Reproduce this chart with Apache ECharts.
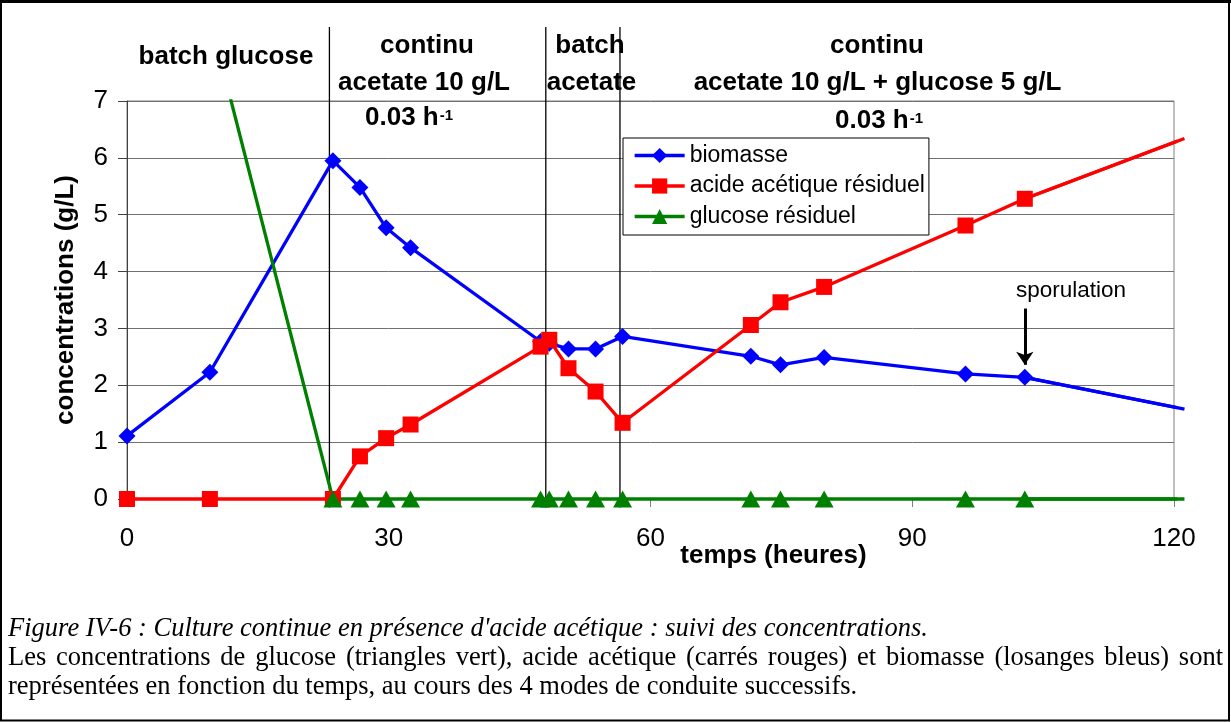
<!DOCTYPE html>
<html><head><meta charset="utf-8">
<script src="https://cdn.jsdelivr.net/npm/echarts@6/dist/echarts.min.js"></script>
<style>html,body{margin:0;padding:0;background:#fff}#c{width:1231px;height:722px}</style>
</head><body><div id="c"></div>
<script>
// ---- data ----
const temps = [0, 9.5, 23.6, 26.7, 29.7, 32.5, 47.4, 48.4, 50.6, 53.7, 56.8, 71.5, 74.9, 79.9, 96.1, 102.9, 121.2];
const biomasse = [1.11, 2.23, 5.95, 5.48, 4.77, 4.42, 2.77, 2.74, 2.64, 2.64, 2.86, 2.51, 2.36, 2.49, 2.20, 2.14, 1.58];
const acide = [0, 0, 0, 0.75, 1.07, 1.31, 2.68, 2.80, 2.30, 1.89, 1.34, 3.06, 3.46, 3.73, 4.81, 5.28, 6.34];
const tempsGlucose = [9.5, 23.6, 26.7, 29.7, 32.5, 47.4, 48.4, 50.6, 53.7, 56.8, 71.5, 74.9, 79.9, 96.1, 102.9, 121.2];
const glucose = [8.46, 0, 0, 0, 0, 0, 0, 0, 0, 0, 0, 0, 0, 0, 0, 0];
const phaseLimits = [23.2, 48.0, 56.5];
const sporulationTime = 102.9;
const sporulationArrow = [3.35, 2.36];
const seriesNames = ['biomasse', 'acide acétique résiduel', 'glucose résiduel'];
const phaseLabels = ['batch glucose', 'continu', 'acetate 10 g/L', 'batch', 'acetate', 'continu', 'acetate 10 g/L + glucose 5 g/L'];
const rateLabel = ['0.03 h', '-1'];
const xTicks = {min: 0, max: 120, interval: 30};
const yTicks = {min: 0, max: 7, interval: 1};
const captionTitle = "Figure IV-6 : Culture continue en présence d'acide acétique : suivi des concentrations.";
const captionLine2 = "Les concentrations de glucose (triangles vert), acide acétique (carrés rouges) et biomasse (losanges bleus) sont";
const captionLine3 = "représentées en fonction du temps, au cours des 4 modes de conduite successifs.";

// ---- build ----
const SANS = '"Liberation Sans", Arial, sans-serif';
const SERIF = '"Liberation Serif", "Times New Roman", serif';
function pairs(ts, vs) {
  return ts.map((t, i) => i === ts.length - 1 ? {value: [t, vs[i]], symbol: 'none'} : [t, vs[i]]);
}
const ctx = document.createElement('canvas').getContext('2d');
function tw(str, font) { ctx.font = font; return ctx.measureText(str).width; }

const chart = echarts.init(document.getElementById('c'), null, {renderer: 'canvas'});

const sepSeries = phaseLimits.map(x => ({
  type: 'line', data: [[x, -0.15], [x, 8.3]], symbol: 'none', clip: false, silent: true,
  lineStyle: {color: '#000', width: 1.3}, z: 1
}));

const graphics = [];
const bold26 = 'bold 26px ' + SANS;
function annot(text, cx, base, size, align) {
  graphics.push({type: 'text', x: cx, y: base - 0.35 * size, z: 50,
    style: {text: text, font: 'bold ' + size + 'px ' + SANS, fill: '#000', align: align || 'center', verticalAlign: 'middle'}});
}
annot(phaseLabels[0], 226, 66, 26);
annot(phaseLabels[1], 427, 55, 26);
annot(phaseLabels[2], 424, 91.7, 26);
annot(phaseLabels[3], 590, 55, 26);
annot(phaseLabels[4], 591.5, 91.7, 26);
annot(phaseLabels[5], 877, 55, 26);
annot(phaseLabels[6], 877.5, 91.7, 26);
[[365, 127], [835, 130]].forEach(p => {
  annot(rateLabel[0], p[0], p[1], 26, 'left');
  annot(rateLabel[1], p[0] + tw(rateLabel[0], bold26) + 1, p[1] - 6, 15, 'left');
});
graphics.push({type: 'text', x: 1071, y: 298.3 - 0.35 * 22.5, z: 50,
  style: {text: 'sporulation', font: '22.5px ' + SANS, fill: '#000', align: 'center', verticalAlign: 'middle'}});

// caption
const capSize = 26.5;
const fontIt = 'italic ' + capSize + 'px ' + SERIF;
const fontRg = capSize + 'px ' + SERIF;
const capBase = [638, 667, 696];
graphics.push({type: 'text', x: 8, y: capBase[0] - 0.35 * capSize, style: {text: captionTitle, font: fontIt, fill: '#000', align: 'left', verticalAlign: 'middle'}});
(function () {
  const words = captionLine2.split(' ');
  const widths = words.map(w => tw(w, fontRg));
  const sum = widths.reduce((a, b) => a + b, 0);
  const gap = Math.max(tw(' ', fontRg), (1223 - 8 - sum) / (words.length - 1));
  let x = 8;
  words.forEach((w, i) => {
    graphics.push({type: 'text', x: x, y: capBase[1] - 0.35 * capSize, style: {text: w, font: fontRg, fill: '#000', align: 'left', verticalAlign: 'middle'}});
    x += widths[i] + gap;
  });
})();
graphics.push({type: 'text', x: 8, y: capBase[2] - 0.35 * capSize, style: {text: captionLine3, font: fontRg, fill: '#000', align: 'left', verticalAlign: 'middle'}});
// frame
graphics.push({type: 'rect', shape: {x: 1, y: 1.5, width: 1228, height: 719}, style: {fill: null, stroke: '#000', lineWidth: 2}, z: 60});
graphics.push({type: 'line', shape: {x1: 0, y1: 1.5, x2: 1231, y2: 1.5}, style: {stroke: '#000', lineWidth: 3}, z: 60});

const option = {
  animation: false,
  backgroundColor: '#fff',
  grid: {left: 127, top: 101, width: 1047, height: 398, show: true, borderColor: '#808080', borderWidth: 1, backgroundColor: 'transparent'},
  xAxis: {
    type: 'value', min: xTicks.min, max: xTicks.max, interval: xTicks.interval,
    name: 'temps (heures)', nameLocation: 'middle', nameGap: 44, nameMoveOverlap: false,
    nameTextStyle: {fontFamily: SANS, fontWeight: 'bold', fontSize: 26, color: '#000', padding: [0, 0, 0, 246]},
    axisLine: {show: true, lineStyle: {color: '#808080', width: 1}},
    axisTick: {show: true, length: 8, lineStyle: {color: '#808080'}},
    axisLabel: {fontFamily: SANS, fontSize: 26, color: '#000', margin: 27},
    splitLine: {show: false}
  },
  yAxis: {
    type: 'value', min: yTicks.min, max: yTicks.max, interval: yTicks.interval,
    name: 'concentrations (g/L)', nameLocation: 'middle', nameGap: 48, nameMoveOverlap: false,
    nameTextStyle: {fontFamily: SANS, fontWeight: 'bold', fontSize: 26, color: '#000'},
    axisLine: {show: true, lineStyle: {color: '#404040', width: 1}},
    axisTick: {show: true, length: 9, lineStyle: {color: '#404040'}},
    axisLabel: {fontFamily: SANS, fontSize: 26, color: '#000', margin: 19},
    splitLine: {show: true, lineStyle: {color: '#707070', width: 1}}
  },
  legend: {
    orient: 'vertical', left: 623, top: 138, padding: [6, 4, 7, 10], itemGap: 7.5,
    itemWidth: 50, itemHeight: 19, data: seriesNames,
    lineStyle: {width: 3.3},
    backgroundColor: '#fff', borderColor: '#000', borderWidth: 1,
    textStyle: {fontFamily: SANS, fontSize: 23, color: '#000'}, selectedMode: false, z: 40
  },
  graphic: graphics,
  series: sepSeries.concat([
    {
      name: seriesNames[0], type: 'line', data: pairs(temps, biomasse), clip: false,
      symbol: 'diamond', symbolSize: 17, color: '#0000ff',
      lineStyle: {color: '#0000ff', width: 3.3}, itemStyle: {color: '#0000ff'},
      markLine: {
        silent: true, symbol: ['none', 'arrow'], symbolSize: 13, label: {show: false},
        lineStyle: {color: '#000', width: 3, type: 'solid'},
        data: [[{coord: [sporulationTime, sporulationArrow[0]]}, {coord: [sporulationTime, sporulationArrow[1]]}]]
      }
    },
    {
      name: seriesNames[1], type: 'line', data: pairs(temps, acide), clip: false,
      symbol: 'rect', symbolSize: 16, color: '#ff0000',
      lineStyle: {color: '#ff0000', width: 3.3}, itemStyle: {color: '#ff0000'}
    },
    {
      name: seriesNames[2], type: 'line', data: pairs(tempsGlucose.slice(1), glucose.slice(1)), clip: false,
      symbol: 'triangle', symbolSize: [19, 17], color: '#008000',
      lineStyle: {color: '#008000', width: 3.3}, itemStyle: {color: '#008000'}
    },
    {
      name: seriesNames[2], type: 'line', data: tempsGlucose.slice(0, 2).map((t, i) => [t, glucose[i]]), clip: true,
      showSymbol: false, symbol: 'none', color: '#008000',
      lineStyle: {color: '#008000', width: 3.3}
    }
  ])
};
chart.setOption(option);

// the last segment of each curve runs past x = 120 (beyond the plot frame) in the reference;
// the line series clips horizontally, so draw that segment with pixels from the chart's own scales.
[[temps, biomasse, '#0000ff'], [temps, acide, '#ff0000'], [tempsGlucose, glucose, '#008000']].forEach(function (s) {
  const ts = s[0], vs = s[1], n = ts.length;
  const a = chart.convertToPixel({gridIndex: 0}, [ts[n - 2], vs[n - 2]]);
  const b = chart.convertToPixel({gridIndex: 0}, [ts[n - 1], vs[n - 1]]);
  graphics.push({type: 'line', z: 1, shape: {x1: a[0], y1: a[1], x2: b[0], y2: b[1]}, style: {stroke: s[2], lineWidth: 3.3}});
});
chart.setOption({graphic: graphics});
</script>
</body></html>
